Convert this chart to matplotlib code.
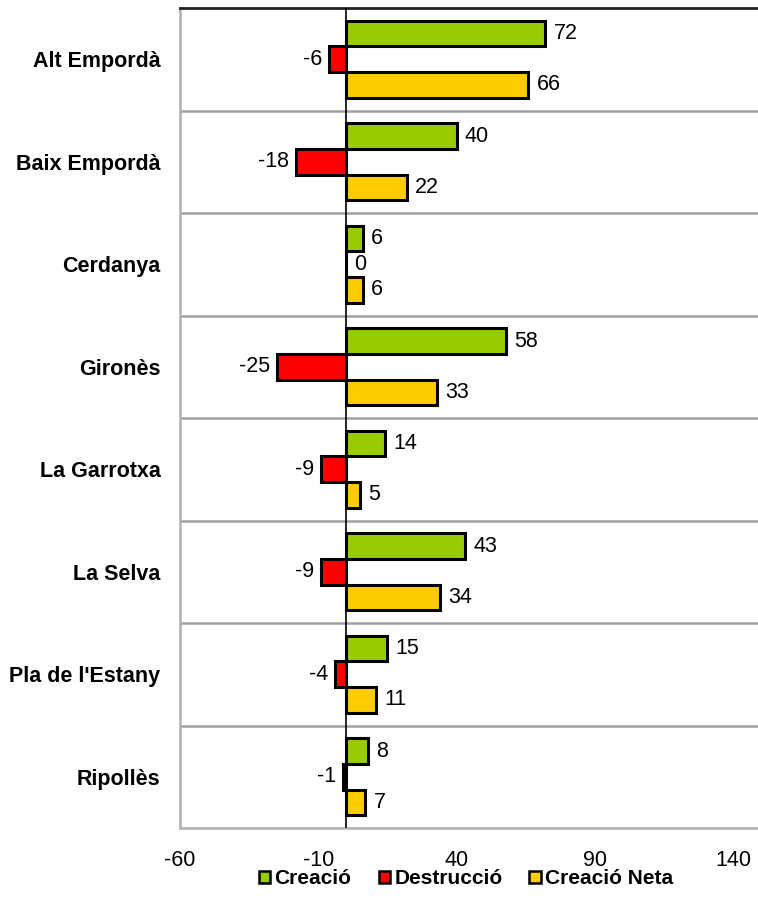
import matplotlib
matplotlib.use('Agg')
import matplotlib.pyplot as plt
from matplotlib.patches import Patch
import numpy as np

plt.rcParams['font.family'] = ['Liberation Sans', 'DejaVu Sans']
plt.rcParams['axes.unicode_minus'] = False

comarques = ['Alt Empordà', 'Baix Empordà', 'Cerdanya', 'Gironès',
             'La Garrotxa', 'La Selva', "Pla de l'Estany", 'Ripollès']
creacio = [72, 40, 6, 58, 14, 43, 15, 8]
destruccio = [-6, -18, 0, -25, -9, -9, -4, -1]
neta = [66, 22, 6, 33, 5, 34, 11, 7]

series = [('Creació', creacio, '#99CC00'),
          ('Destrucció', destruccio, '#FF0000'),
          ('Creació Neta', neta, '#FFCC00')]

fig = plt.figure(figsize=(7.58, 9.18), dpi=100)
ax = fig.add_axes([180 / 758, 1 - 828 / 918, 578 / 758, 820 / 918])

y = np.arange(len(comarques))
h = 0.25
for i, (name, vals, col) in enumerate(series):
    pos = y + (i - 1) * h
    ax.barh(pos, vals, height=h, color=col, edgecolor='black', linewidth=2.2,
            label=name, zorder=3)
    for p, v in zip(pos, vals):
        if v < 0:
            ax.annotate(str(v), (v, p), xytext=(-5, 0), textcoords='offset points',
                        ha='right', va='center', fontsize=15.5)
        else:
            ax.annotate(str(v), (v, p), xytext=(6, 0), textcoords='offset points',
                        ha='left', va='center', fontsize=15.5)

ax.set_xlim(-60, 149)
ax.set_ylim(len(comarques) - 0.5, -0.5)
ax.set_xticks([-60, -10, 40, 90, 140])
ax.set_yticks(y)
ax.set_yticklabels(comarques, fontweight='bold', fontsize=14.3)
ax.tick_params(axis='both', length=0, labelsize=15.5)
ax.tick_params(axis='y', pad=14)
ax.tick_params(axis='x', pad=16)

for s in np.arange(0.5, len(comarques) - 0.5, 1):
    ax.axhline(s, color='#a0a0a0', linewidth=1.8, zorder=1)
ax.axvline(0, color='black', linewidth=1.2, zorder=4)

ax.spines['right'].set_visible(False)
ax.spines['top'].set_color('#222222')
ax.spines['top'].set_linewidth(2)
ax.spines['left'].set_color('#b0b0b0')
ax.spines['left'].set_linewidth(1.8)
ax.spines['bottom'].set_color('#b8b8b8')
ax.spines['bottom'].set_linewidth(2)

handles = [Patch(facecolor=c, edgecolor='black', linewidth=1.8) for _, _, c in series]
fig.legend(handles, [n for n, _, _ in series], loc='center',
           bbox_to_anchor=(466 / 758, 1 - 879 / 918), ncol=3, frameon=False,
           prop={'weight': 'bold', 'size': 15}, handlelength=0.55, handleheight=0.55,
           handletextpad=0.2, columnspacing=1.3)

fig.savefig('out.png', dpi=100)
